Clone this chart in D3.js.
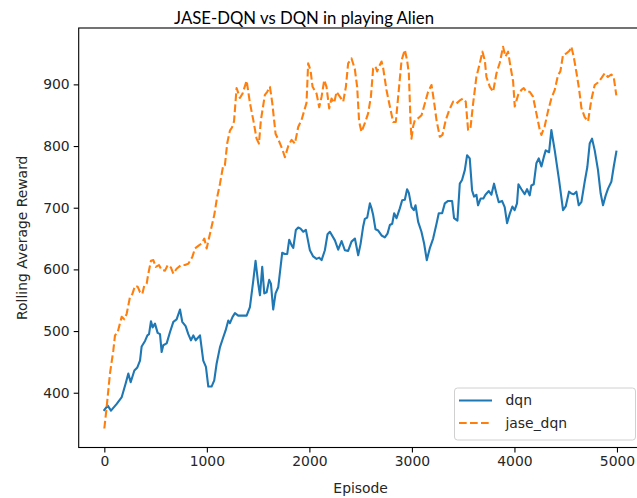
<!DOCTYPE html>
<html>
<head>
<meta charset="utf-8">
<script src="https://cdn.jsdelivr.net/npm/d3@7"></script>
<style>
  html, body { margin: 0; padding: 0; background: #fff; }
  svg { display: block; }
</style>
</head>
<body>
<svg id="chart" width="637" height="498"></svg>
<script>
const titleText = "JASE-DQN vs DQN in playing Alien";
const xLabel = "Episode";
const yLabel = "Rolling Average Reward";
const xTicks = [0, 1000, 2000, 3000, 4000, 5000];
const yTicks = [400, 500, 600, 700, 800, 900];
const seriesNames = ["dqn", "jase_dqn"];

const dqnEpisodes = [0,33,65,121,170,208,234,257,293,322,348,364,397,420,436,455,471,494,520,543,559,575,608,640,673,705,738,760,793,819,845,868,891,933,965,991,1014,1046,1072,1095,1128,1160,1183,1209,1225,1251,1274,1306,1388,1420,1453,1475,1501,1518,1540,1560,1583,1608,1625,1647,1670,1696,1735,1761,1784,1803,1827,1843,1868,1891,1914,1940,1966,2005,2037,2070,2096,2119,2151,2177,2200,2249,2281,2314,2346,2378,2411,2444,2476,2499,2524,2541,2564,2590,2606,2622,2645,2671,2704,2736,2762,2785,2808,2827,2850,2882,2905,2931,2953,2970,2996,3019,3035,3061,3093,3119,3145,3174,3207,3240,3262,3295,3321,3353,3392,3411,3444,3467,3489,3516,3538,3564,3587,3606,3629,3645,3671,3697,3717,3750,3775,3801,3824,3847,3879,3905,3928,3954,3980,4002,4025,4039,4068,4100,4123,4149,4165,4188,4214,4237,4263,4286,4305,4338,4360,4393,4435,4474,4500,4532,4555,4578,4604,4627,4653,4685,4711,4734,4757,4783,4815,4841,4864,4890,4913,4945,4968,4994];
const dqnRewards = [372,379,371,382,393,415,431,417,436,441,452,475,484,493,495,516,506,512,497,495,466,477,480,498,515,519,535,515,508,495,485,493,485,493,452,442,410,410,420,447,474,490,501,517,513,523,529,525,525,539,582,614,577,558,604,561,563,583,577,535,561,571,627,625,625,648,639,635,664,668,666,661,664,631,621,617,619,615,631,657,661,647,632,646,631,630,645,650,623,641,669,682,684,707,699,688,665,663,655,652,658,672,674,691,683,699,712,713,730,724,701,696,704,677,661,642,615,634,650,674,691,691,707,711,711,683,679,739,745,761,785,780,728,718,721,704,715,715,721,727,721,739,723,709,711,701,675,690,702,696,707,738,730,722,730,720,736,738,772,780,767,782,793,790,826,793,745,696,702,726,723,722,726,704,709,742,766,804,812,793,761,723,704,720,731,742,766,791];

const jaseEpisodes = [0,23,55,88,104,130,153,169,195,218,250,273,299,325,348,370,390,413,429,455,478,501,533,559,592,618,650,673,705,748,786,819,858,884,923,949,975,998,1020,1046,1072,1098,1128,1160,1176,1199,1225,1245,1265,1290,1322,1348,1388,1420,1453,1485,1508,1527,1566,1589,1615,1638,1670,1706,1738,1761,1794,1826,1859,1891,1923,1956,1972,1988,2011,2031,2070,2096,2119,2145,2167,2193,2216,2242,2265,2297,2330,2356,2378,2411,2443,2466,2485,2508,2541,2573,2600,2622,2645,2661,2680,2704,2720,2752,2785,2817,2843,2866,2899,2931,2953,2970,2986,2996,3012,3029,3061,3094,3126,3158,3191,3214,3240,3272,3298,3330,3363,3402,3434,3467,3499,3525,3548,3571,3597,3629,3662,3688,3711,3727,3760,3792,3825,3857,3889,3912,3938,3961,3987,4003,4036,4068,4091,4117,4149,4181,4214,4247,4263,4295,4328,4360,4393,4425,4448,4474,4506,4539,4555,4578,4604,4630,4653,4685,4718,4750,4783,4815,4848,4880,4912,4945,4968,4994];
const jaseRewards = [342,377,431,469,493,498,513,523,519,528,555,560,573,572,563,560,574,577,593,614,615,604,607,599,598,607,603,593,601,607,607,609,620,634,639,642,650,634,650,669,688,715,739,769,769,805,825,830,840,894,878,885,906,870,842,812,804,842,883,888,896,870,820,807,794,782,800,810,804,831,842,861,870,934,923,896,885,863,880,907,896,861,877,870,888,880,872,896,934,942,925,896,840,823,837,853,880,926,929,921,929,937,926,891,864,839,839,880,939,956,939,918,842,812,832,842,845,850,869,888,899,874,842,815,818,842,858,872,869,874,877,872,826,829,869,912,934,953,939,912,896,888,918,935,961,945,953,929,905,864,883,891,894,888,888,880,853,826,818,832,857,877,891,915,921,948,950,955,961,945,920,893,862,847,840,875,899,903,910,918,912,916,912,882];

const W = 637, H = 498;
const svg = d3.select("#chart");
const font = "'DejaVu Sans', sans-serif";
const fs = 13.9;

const x = d3.scaleLinear().domain([-250, 5250]).range([78.7, 642.6]);
const y = d3.scaleLinear().domain([311.2, 991.4]).range([447.5, 28]);

svg.append("rect").attr("width", W).attr("height", H).attr("fill", "#fff");

const colors = ["#1f77b4", "#ff7f0e"];
const lineGen = d3.line().x(d => x(d[0])).y(d => y(d[1]));

const dqnData = dqnEpisodes.map((e, i) => [e, dqnRewards[i]]);
const jaseData = jaseEpisodes.map((e, i) => [e, jaseRewards[i]]);

svg.append("clipPath").attr("id", "clip").append("rect")
  .attr("x", x.range()[0]).attr("y", y.range()[1])
  .attr("width", x.range()[1] - x.range()[0]).attr("height", y.range()[0] - y.range()[1]);

const plot = svg.append("g").attr("clip-path", "url(#clip)");
plot.append("path").datum(dqnData).attr("d", lineGen)
  .attr("fill", "none").attr("stroke", colors[0]).attr("stroke-width", 2.1)
  .attr("stroke-linejoin", "round").attr("stroke-linecap", "square");
plot.append("path").datum(jaseData).attr("d", lineGen)
  .attr("fill", "none").attr("stroke", colors[1]).attr("stroke-width", 2.1)
  .attr("stroke-dasharray", "7.7,3.3").attr("stroke-linejoin", "round");

// axes
const xAxis = d3.axisBottom(x).tickValues(xTicks).tickSize(5).tickPadding(4).tickFormat(d3.format("d"));
const yAxis = d3.axisLeft(y).tickValues(yTicks).tickSize(5).tickPadding(4).tickFormat(d3.format("d"));

const gx = svg.append("g").attr("transform", `translate(0,${y.range()[0]})`).call(xAxis);
const gy = svg.append("g").attr("transform", `translate(${x.range()[0]},0)`).call(yAxis);
[gx, gy].forEach(g => {
  g.select(".domain").remove();
  g.selectAll(".tick line").attr("stroke", "#000").attr("stroke-width", 1.1);
  g.selectAll(".tick text").attr("fill", "#262626").style("font-family", font).style("font-size", fs + "px");
});

// spines
const x0 = x.range()[0], x1 = x.range()[1], y0 = y.range()[0], y1 = y.range()[1];
svg.append("rect").attr("x", x0).attr("y", y1).attr("width", x1 - x0).attr("height", y0 - y1)
  .attr("fill", "none").attr("stroke", "#000").attr("stroke-width", 1.1);

// axis labels
svg.append("text").attr("x", (x0 + x1) / 2).attr("y", 493).attr("text-anchor", "middle")
  .style("font-family", font).style("font-size", fs + "px").attr("fill", "#262626").text(xLabel);
svg.append("text").attr("transform", `translate(27,${(y0 + y1) / 2}) rotate(-90)`).attr("text-anchor", "middle")
  .style("font-family", font).style("font-size", fs + "px").attr("fill", "#262626").text(yLabel);

// title
svg.append("text").attr("x", 174).attr("y", 24)
  .attr("textLength", 260).attr("lengthAdjust", "spacingAndGlyphs")
  .style("font-family", "Lato, 'Open Sans', sans-serif").style("font-size", "18px").attr("fill", "#000").text(titleText);

// legend
const lg = svg.append("g");
lg.append("rect").attr("x", 454.5).attr("y", 388).attr("width", 181).attr("height", 52).attr("rx", 3)
  .attr("fill", "#fff").attr("fill-opacity", 0.8).attr("stroke", "#d0d0d0").attr("stroke-width", 1);
const lgY = [400.5, 423];
seriesNames.forEach((name, i) => {
  lg.append("line").attr("x1", 459).attr("x2", 492).attr("y1", lgY[i]).attr("y2", lgY[i])
    .attr("stroke", colors[i]).attr("stroke-width", 2.1)
    .attr("stroke-dasharray", i === 1 ? "7.7,3.3" : null);
  lg.append("text").attr("x", 505.5).attr("y", lgY[i]).attr("dy", "0.35em")
    .style("font-family", font).style("font-size", fs + "px").attr("fill", "#262626").text(name);
});
</script>
</body>
</html>
